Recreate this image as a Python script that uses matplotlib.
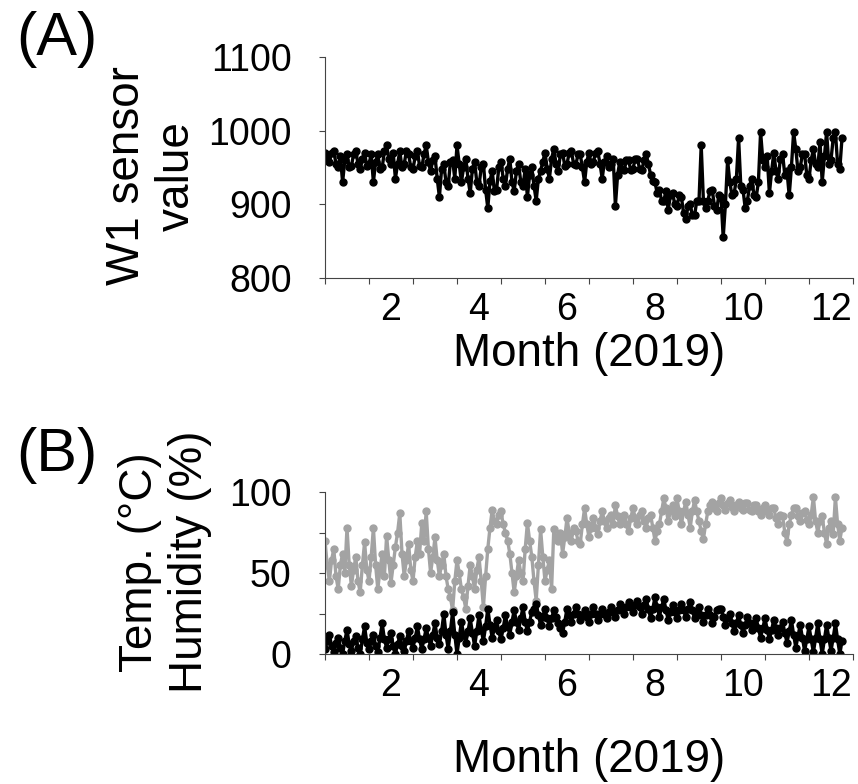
import numpy as np
import matplotlib
matplotlib.use("Agg")
import matplotlib.pyplot as plt

plt.rcParams['font.family'] = ['Liberation Sans', 'DejaVu Sans']

# values every 0.05 month (about 1.5 days)
w1 = [970, 962, 958, 970, 972, 955, 950, 965, 930, 960,
      968, 950, 952, 968, 972, 955, 948, 962, 970, 952,
      955, 968, 930, 958, 968, 948, 950, 972, 980, 962,
      955, 970, 935, 955, 972, 950, 955, 972, 968, 950,
      948, 965, 972, 952, 950, 968, 980, 958, 945, 960,
      965, 935, 910, 948, 955, 930, 925, 958, 960, 935,
      980, 955, 930, 950, 962, 935, 915, 948, 958, 930,
      925, 950, 955, 920, 895, 932, 945, 918, 920, 950,
      958, 935, 925, 948, 962, 930, 918, 945, 955, 930,
      925, 948, 910, 940, 950, 925, 905, 935, 945, 958,
      970, 948, 935, 962, 975, 955, 945, 968, 970, 952,
      955, 970, 972, 955, 953, 968, 968, 950, 930, 958,
      970, 955, 958, 970, 972, 955, 935, 958, 965, 950,
      955, 962, 898, 940, 958, 948, 946, 960, 960, 946,
      948, 962, 962, 948, 946, 960, 968, 955, 940, 932,
      930, 915, 920, 905, 905, 918, 892, 912, 915, 900,
      898, 912, 910, 888, 880, 898, 900, 885, 885, 905,
      905, 980, 905, 895, 905, 918, 920, 898, 892, 912,
      910, 855, 900, 960, 930, 912, 915, 935, 990, 925,
      920, 895, 905, 925, 935, 912, 910, 930, 998, 960,
      950, 965, 915, 945, 970, 945, 935, 962, 968, 940,
      945, 912, 950, 998, 975, 945, 950, 968, 968, 940,
      935, 960, 975, 955, 950, 985, 930, 965, 998, 955,
      960, 990, 998, 955, 948, 990]

humidity = [70, 55, 45, 58, 65, 48, 40, 55, 62, 50,
            78, 55, 42, 52, 60, 45, 38, 55, 69, 52,
            45, 60, 78, 55, 40, 52, 62, 48, 73, 58,
            44, 55, 66, 75, 87, 62, 48, 58, 68, 52,
            45, 60, 70, 62, 81, 70, 88, 65, 50, 60,
            72, 58, 48, 55, 62, 48, 40, 35, 27, 45,
            58, 50, 40, 35, 28, 42, 55, 48, 40, 52,
            60, 45, 29, 48, 65, 78, 89, 82, 80, 86,
            88, 80, 75, 70, 62, 50, 38, 48, 58, 50,
            45, 65, 81, 70, 60, 45, 33, 55, 77, 60,
            45, 52, 58, 40, 77, 72, 70, 75, 62, 72,
            84, 75, 70, 78, 76, 70, 68, 80, 90, 80,
            72, 78, 84, 78, 74, 82, 88, 82, 78, 84,
            86, 80, 92, 85, 80, 84, 86, 80, 76, 84,
            90, 84, 80, 86, 88, 82, 78, 84, 86, 78,
            70, 76, 80, 88, 96, 90, 82, 88, 92, 85,
            96, 88, 80, 88, 94, 86, 78, 88, 95, 88,
            82, 76, 71, 80, 88, 92, 94, 90, 88, 93,
            96, 92, 89, 93, 95, 91, 88, 92, 94, 90,
            89, 93, 93, 89, 88, 92, 92, 88, 86, 90,
            92, 88, 86, 90, 90, 84, 80, 86, 85, 75,
            69, 80, 86, 90, 90, 85, 82, 87, 88, 83,
            80, 86, 97, 82, 75, 82, 85, 75, 68, 78,
            82, 74, 97, 80, 70, 78]

temp = [3, 8, 12, 5, 1, 7, 10, 4, 0, 8,
        15, 6, 2, 8, 11, 4, 0, 9, 17, 7,
        3, 8, 12, 5, 1, 10, 19, 9, 4, 9,
        13, 5, 0, 6, 11, 5, 2, 8, 14, 8,
        4, 10, 17, 9, 3, 9, 16, 10, 5, 12,
        19, 10, 6, 14, 25, 12, 3, 14, 26, 12,
        0, 10, 20, 12, 7, 14, 22, 13, 5, 14,
        24, 15, 8, 17, 28, 18, 10, 16, 21, 14,
        9, 16, 24, 17, 12, 20, 27, 20, 15, 22,
        29, 20, 14, 20, 26, 28, 31, 24, 18, 23,
        28, 22, 17, 22, 27, 23, 19, 16, 13, 20,
        28, 24, 20, 25, 29, 25, 21, 24, 27, 23,
        20, 25, 29, 25, 21, 25, 28, 25, 22, 26,
        29, 26, 23, 27, 31, 28, 25, 29, 32, 29,
        26, 30, 33, 29, 25, 30, 34, 28, 22, 28,
        35, 29, 23, 29, 34, 27, 21, 26, 30, 26,
        22, 27, 31, 27, 23, 28, 32, 27, 22, 26,
        29, 24, 20, 24, 28, 24, 19, 23, 27, 28,
        28, 23, 18, 22, 25, 19, 14, 19, 24, 18,
        13, 18, 23, 19, 15, 18, 22, 16, 10, 16,
        22, 15, 9, 15, 21, 16, 12, 16, 20, 13,
        7, 14, 21, 12, 4, 11, 18, 10, 2, 9,
        17, 9, 1, 10, 19, 9, 0, 9, 18, 10,
        2, 10, 19, 9, 0, 8]

tick_labels = ['2', '4', '6', '8', '10', '12']


def months(vals):
    return np.arange(len(vals)) * 0.05


fig = plt.figure(figsize=(8.58, 7.84), dpi=100)
axA = fig.add_axes([325/858, 1-278/784, 528/858, 221/784])
axB = fig.add_axes([325/858, 1-654/784, 528/858, 162/784])

axA.plot(months(w1), w1, '-o', color='black', lw=2.4, ms=5)
axB.plot(months(humidity), humidity, '-o', color='#a3a3a3', lw=2.4, ms=5)
axB.plot(months(temp), temp, '-o', color='black', lw=2.4, ms=5)

axA.set_ylim(800, 1100)
axA.set_yticks([800, 900, 1000, 1100])
axB.set_ylim(0, 100)
axB.set_yticks([0, 25, 50, 75, 100])
axB.set_yticklabels(['0', '', '50', '', '100'])

for ax in (axA, axB):
    ax.set_xlim(0, 12)
    ax.set_xticks(range(13))
    ax.set_xticklabels([])
    ax.set_xticks([1.5, 3.5, 5.5, 7.5, 9.5, 11.5], minor=True)
    ax.set_xticklabels(tick_labels, minor=True)
    ax.tick_params(axis='x', which='minor', length=0, pad=10, labelsize=27)
    ax.tick_params(axis='x', which='major', length=4, width=0.8, color='#444444')
    ax.tick_params(axis='y', length=4, width=0.8, pad=20, labelsize=27, color='#444444')
    ax.spines['top'].set_visible(False)
    ax.spines['right'].set_visible(False)
    ax.spines['left'].set_color('#444444')
    ax.spines['bottom'].set_color('#444444')
    ax.spines['left'].set_linewidth(0.8)
    ax.spines['bottom'].set_linewidth(0.8)

fig.text(589/858, 1-354/784, 'Month (2019)', fontsize=33, ha='center', va='center')
fig.text(589/858, 1-760/784, 'Month (2019)', fontsize=33, ha='center', va='center')
fig.text(152/858, 1-176/784, 'W1 sensor\nvalue', rotation=90, fontsize=33,
         ha='center', va='center', multialignment='center', linespacing=1.15)
fig.text(165/858, 1-562/784, 'Temp. (\u00b0C)\nHumidity (%)', rotation=90, fontsize=33,
         ha='center', va='center', multialignment='center', linespacing=1.15)
fig.text(57/858, 1-40/784, '(A)', fontsize=44, ha='center', va='center')
fig.text(57/858, 1-455/784, '(B)', fontsize=44, ha='center', va='center')

fig.savefig('out.png', dpi=100)
